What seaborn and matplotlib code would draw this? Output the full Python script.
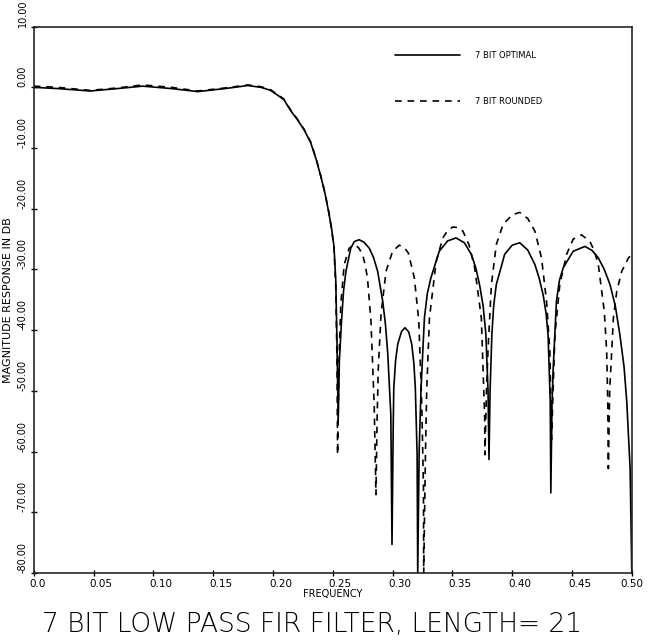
import numpy as np
import pandas as pd
import matplotlib
matplotlib.use("Agg")
import matplotlib.pyplot as plt
import matplotlib.transforms as mtransforms
import seaborn as sns

# Values (frequency, dB)
opt_freq = [0.0, 0.02, 0.047, 0.07, 0.091, 0.115, 0.137, 0.16, 0.179, 0.19, 0.198,
            0.209, 0.215, 0.2203, 0.226, 0.2315, 0.236, 0.240, 0.2435, 0.2466, 0.249, 0.251, 0.2525, 0.2535, 0.2545,
            0.2555, 0.2573, 0.259, 0.261, 0.265, 0.268, 0.272, 0.276, 0.2805, 0.284, 0.2875, 0.2917, 0.294, 0.296, 0.2985, 0.2995,
            0.3005, 0.301, 0.3025, 0.3043, 0.3075, 0.3104, 0.3135, 0.316, 0.3178, 0.319, 0.3205, 0.321,
            0.3222, 0.3238, 0.3266, 0.329, 0.332, 0.339, 0.346, 0.353, 0.36, 0.3658, 0.3695, 0.3727, 0.3757, 0.378, 0.3798, 0.3806,
            0.3815, 0.383, 0.3845, 0.3867, 0.3937, 0.40, 0.4063, 0.413, 0.419, 0.4225, 0.4259, 0.4283, 0.430, 0.4318, 0.4323,
            0.4333, 0.4343, 0.437, 0.4395, 0.4427, 0.451, 0.4608, 0.467, 0.472, 0.477, 0.4818, 0.4862, 0.490, 0.4935, 0.4958, 0.4986, 0.5]
opt_db = [0.0, -0.2, -0.6, -0.2, 0.2, -0.2, -0.7, -0.2, 0.3, 0.0, -0.5,
          -2.0, -3.9, -5.3, -7.0, -9.1, -11.8, -14.7, -17.5, -20.6, -23.3, -26.2, -31.9, -42.0, -55.0,
          -45.0, -38.5, -33.5, -30.3, -26.5, -25.4, -25.1, -25.5, -26.5, -28.0, -30.3, -35.2, -39.0, -44.0, -53.9, -75.3,
          -56.0, -49.5, -45.0, -42.3, -40.2, -39.6, -40.3, -42.3, -45.5, -49.5, -60.5, -80.0,
          -60.0, -49.5, -38.0, -34.0, -31.4, -27.0, -25.3, -24.8, -25.6, -27.5, -29.7, -32.5, -36.0, -40.7, -50.0, -61.3,
          -50.0, -40.7, -36.0, -32.5, -27.5, -26.0, -25.6, -26.8, -29.2, -31.4, -34.2, -37.2, -40.8, -51.8, -66.8,
          -52.0, -46.2, -35.2, -31.8, -29.7, -27.0, -26.2, -26.9, -28.1, -30.0, -32.5, -36.0, -40.7, -46.0, -51.8, -62.8, -80.0]

rnd_freq = [0.0, 0.02, 0.047, 0.07, 0.091, 0.115, 0.137, 0.16, 0.179, 0.19, 0.198,
            0.209, 0.215, 0.2203, 0.226, 0.2315, 0.236, 0.240, 0.2435, 0.2466, 0.249, 0.251, 0.2525, 0.2535, 0.254,
            0.2552, 0.2567, 0.2595, 0.2637, 0.2679, 0.2715, 0.2749, 0.277, 0.279, 0.2819, 0.2846, 0.2861,
            0.287, 0.288, 0.2903, 0.2945, 0.300, 0.3056, 0.3095, 0.3132, 0.3182, 0.3219, 0.3244, 0.3258, 0.326,
            0.3275, 0.3285, 0.3308, 0.3364, 0.342, 0.346, 0.3504, 0.3548, 0.3588, 0.364, 0.3686, 0.3742, 0.3756, 0.377, 0.3772,
            0.3785, 0.3798, 0.3826, 0.3867, 0.3923, 0.40, 0.4063, 0.413, 0.419, 0.4245, 0.4287, 0.4315, 0.4329,
            0.4345, 0.4357, 0.4398, 0.4455, 0.451, 0.458, 0.465, 0.4688, 0.472, 0.477, 0.479, 0.4799, 0.4804,
            0.4815, 0.4832, 0.4846, 0.4874, 0.4916, 0.4972, 0.5]
rnd_db = [0.2, 0.0, -0.5, -0.1, 0.4, 0.0, -0.6, -0.1, 0.4, 0.1, -0.4,
          -1.9, -3.8, -5.2, -6.9, -9.0, -11.7, -14.6, -17.4, -20.5, -23.4, -26.5, -33.0, -45.0, -60.5,
          -45.0, -35.7, -29.2, -26.5, -25.9, -26.4, -27.5, -29.2, -31.4, -38.5, -52.3, -67.1,
          -55.0, -46.5, -37.4, -30.3, -27.0, -26.0, -26.3, -27.3, -31.4, -38.5, -52.3, -66.0, -80.0,
          -60.0, -50.0, -38.0, -28.7, -24.8, -23.6, -23.0, -23.1, -23.7, -26.0, -29.7, -38.0, -46.2, -54.5, -60.5,
          -50.0, -43.2, -32.5, -25.9, -22.6, -21.0, -20.6, -21.6, -23.7, -28.1, -35.2, -43.5, -58.0,
          -48.0, -40.8, -32.5, -27.5, -25.0, -24.3, -25.4, -27.0, -29.2, -36.9, -43.5, -51.8, -62.8,
          -50.0, -43.5, -38.0, -33.6, -30.3, -28.1, -27.5]

x_ticks = [0.0, 0.05, 0.10, 0.15, 0.20, 0.25, 0.30, 0.35, 0.40, 0.45, 0.50]
x_labels = ["0.0", "0.05", "0.10", "0.15", "0.20", "0.25", "0.30", "0.35", "0.40", "0.45", "0.50"]
y_ticks = [10, 0, -10, -20, -30, -40, -50, -60, -70, -80]
y_labels = ["10.00", "0.00", "-10.00", "-20.00", "-30.00", "-40.00", "-50.00", "-60.00", "-70.00", "-80.00"]

opt = pd.DataFrame({"freq": opt_freq, "db": opt_db})
rnd = pd.DataFrame({"freq": rnd_freq, "db": rnd_db})

sns.set_style("ticks")
plt.rcParams["font.family"] = ["DejaVu Sans"]
plt.rcParams["text.color"] = "black"
plt.rcParams["axes.labelcolor"] = "black"
plt.rcParams["xtick.color"] = "black"
plt.rcParams["ytick.color"] = "black"

fig = plt.figure(figsize=(6.5, 6.42), dpi=100)
ax = fig.add_axes([0.052, 0.1075, 0.92, 0.851])

sns.lineplot(data=opt, x="freq", y="db", ax=ax, color="black", lw=1.2,
             sort=False, estimator=None, label="7 BIT OPTIMAL")
sns.lineplot(data=rnd, x="freq", y="db", ax=ax, color="black", lw=1.2,
             sort=False, estimator=None, label="7 BIT ROUNDED", linestyle=(0, (4, 3.5)))

ax.set_xlim(0, 0.5)
ax.set_ylim(-80, 10)
ax.tick_params(direction="inout", length=5, width=1, pad=2)
ax.set_xticks(x_ticks)
ax.set_yticks(y_ticks)
ax.set_xticklabels(x_labels, fontsize=7.5, ha="left")
ax.set_yticklabels(y_labels, fontsize=7, rotation=90, va="bottom")

# tick sits on the decimal point, so nudge the labels left a bit
shift = mtransforms.ScaledTranslation(-4 / 100, 0, fig.dpi_scale_trans)
xlabs = ax.get_xticklabels()
for lab in xlabs[:-1]:
    lab.set_transform(lab.get_transform() + shift)
xlabs[-1].set_ha("center")
for s in ax.spines.values():
    s.set_linewidth(1.2)

ax.set_xlabel("FREQUENCY", fontsize=7, labelpad=0)
ax.set_ylabel("MAGNITUDE RESPONSE IN DB", fontsize=8, labelpad=3)

ax.legend(loc="upper left", bbox_to_anchor=(0.604, 0.955), frameon=False,
          fontsize=6, handlelength=7.8, labelspacing=4.4, handletextpad=1.8,
          borderpad=0, borderaxespad=0)

fig.text(0.48, 0.027, "7 BIT LOW PASS FIR FILTER, LENGTH= 21", ha="center",
         va="center", fontsize=19, fontweight="light")

fig.savefig("out.png", dpi=100)
